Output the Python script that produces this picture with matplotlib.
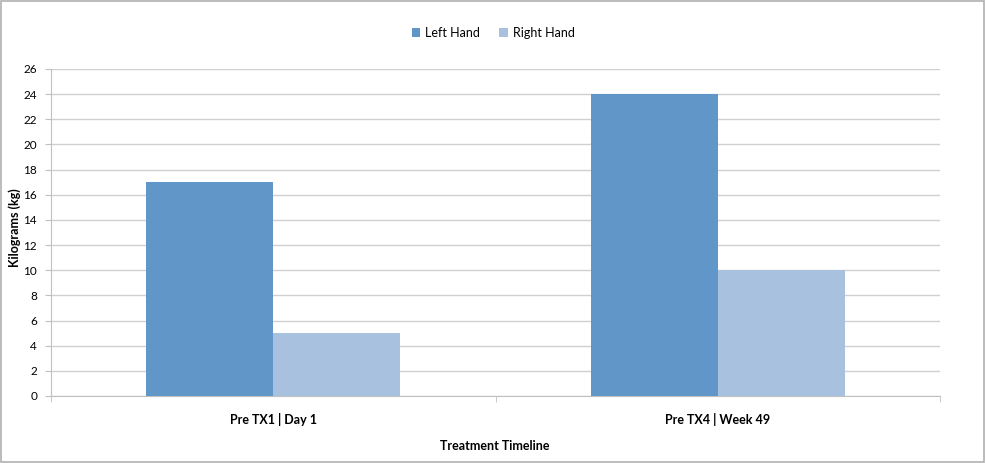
import matplotlib.pyplot as plt
import numpy as np

# данные из диаграммы
categories = ['Pre TX1 | Day 1', 'Pre TX4 | Week 49']
left_hand = [17, 24]
right_hand = [5, 10]
y_ticks = list(range(0, 27, 2))

plt.rcParams['font.family'] = ['Lato', 'DejaVu Sans']

fig = plt.figure(figsize=(9.86, 4.63), dpi=100)
ax = fig.add_axes([51 / 986, 67 / 463, 889 / 986, 327 / 463])

x = np.arange(len(categories))
w = 0.2857
ax.bar(x - w / 2, left_hand, w, color='#6096c8', label='Left Hand', zorder=3)
ax.bar(x + w / 2, right_hand, w, color='#a7c1df', label='Right Hand', zorder=3)

ax.set_xlim(-0.5, len(categories) - 0.5)
ax.set_ylim(0, 26)
ax.set_yticks(y_ticks)
ax.set_xticks(x)
ax.set_xticklabels(categories, fontsize=9, fontweight='bold')
ax.tick_params(axis='x', length=0, pad=12)
# засечки на границах категорий
ax.set_xticks(np.arange(-0.5, len(categories)), minor=True)
ax.tick_params(axis='x', which='minor', length=4, color='#c0c0c0')
ax.tick_params(axis='y', labelsize=8.5, length=4, color='#c0c0c0', pad=6)
ax.yaxis.grid(True, color='#d0d0d0', linewidth=1, zorder=0)

for s in ['top', 'right']:
    ax.spines[s].set_visible(False)
ax.spines['left'].set_color('#c0c0c0')
ax.spines['bottom'].set_color('#c0c0c0')

fig.text(15 / 986, 1 - 228 / 463, 'Kilograms (kg)', rotation=90, fontsize=9,
         fontweight='bold', ha='center', va='center')
fig.text(495 / 986, 1 - 446 / 463, 'Treatment Timeline', fontsize=9,
         fontweight='bold', ha='center', va='center')

fig.legend(loc='center', bbox_to_anchor=(493 / 986, 1 - 33 / 463), ncol=2,
           frameon=False, fontsize=9, handlelength=0.7, handleheight=0.7,
           columnspacing=1.5, handletextpad=0.4)

# рамка вокруг всей диаграммы
fig.patches.append(plt.Rectangle((0.001, 0.002), 0.997, 0.995, transform=fig.transFigure,
                                 fill=False, edgecolor='#b0b0b0', linewidth=1.2))

plt.savefig('out.png', dpi=100)
